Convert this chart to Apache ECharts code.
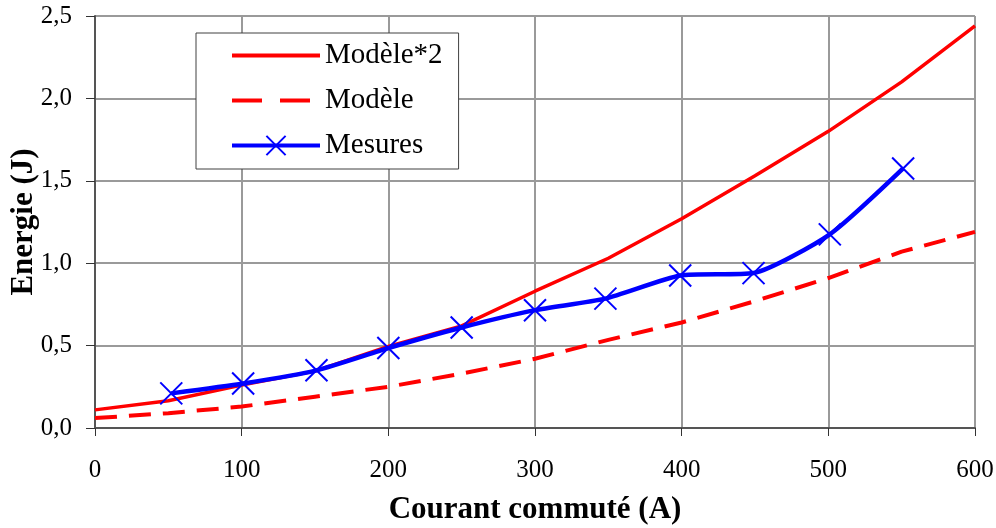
<!DOCTYPE html>
<html>
<head>
<meta charset="utf-8">
<script src="https://cdn.jsdelivr.net/npm/echarts@6/dist/echarts.min.js"></script>
<style>
  html, body { margin: 0; padding: 0; background: #fff; }
  #chart { width: 996px; height: 528px; }
</style>
</head>
<body>
<div id="chart"></div>
<script>
// Switching energy versus switched current
const modelCurrent = [0, 50, 100, 150, 200, 250, 300, 350, 400, 450, 500, 550, 600];
const modelEnergy = [0.06, 0.09, 0.13, 0.19, 0.25, 0.33, 0.42, 0.535, 0.64, 0.77, 0.91, 1.07, 1.19];
const model2Energy = [0.11, 0.165, 0.26, 0.345, 0.495, 0.62, 0.83, 1.03, 1.27, 1.53, 1.80, 2.10, 2.44];

const measCurrent = [52, 101, 151, 200, 250, 300, 348, 399, 449, 501, 551];
const measEnergy = [0.21, 0.27, 0.35, 0.485, 0.61, 0.715, 0.785, 0.925, 0.94, 1.175, 1.575];

const xTicks = { min: 0, max: 600, step: 100 };
const yTicks = { min: 0, max: 2.5, step: 0.5 };

const seriesNames = ['Modèle*2', 'Modèle', 'Mesures'];

const pairs = (xs, ys) => xs.map((x, i) => [x, ys[i]]);

const FONT = "'Liberation Serif', 'Times New Roman', serif";
const RED = '#ff0000';
const BLUE = '#0000ff';
const DASH = [22, 12];
const gridLine = { show: true, lineStyle: { color: '#9a9a9a', width: 2 } };
const axisLine = { show: true, lineStyle: { color: '#555', width: 2 } };
const noMarker = { color: 'rgba(0,0,0,0)', borderColor: 'rgba(0,0,0,0)' };

const chart = echarts.init(document.getElementById('chart'));
chart.setOption({
  animation: false,
  backgroundColor: '#fff',
  textStyle: { fontFamily: FONT, color: '#000' },
  grid: { left: 95, right: 21, top: 16, bottom: 100, containLabel: false, outerBoundsMode: 'none' },
  xAxis: {
    type: 'value',
    min: xTicks.min, max: xTicks.max, interval: xTicks.step,
    name: 'Courant commuté (A)',
    nameLocation: 'middle',
    nameGap: 66,
    nameMoveOverlap: false,
    nameTextStyle: { fontFamily: FONT, fontSize: 31, fontWeight: 'bold', color: '#000' },
    axisLine: axisLine,
    axisTick: { show: true, inside: false, length: 8, lineStyle: { color: '#333', width: 1 } },
    axisLabel: { fontFamily: FONT, fontSize: 25, color: '#000', margin: 30 },
    splitLine: gridLine
  },
  yAxis: {
    type: 'value',
    min: yTicks.min, max: yTicks.max, interval: yTicks.step,
    name: 'Energie (J)',
    nameLocation: 'middle',
    nameRotate: 90,
    nameGap: 56,
    nameMoveOverlap: false,
    nameTextStyle: { fontFamily: FONT, fontSize: 31, fontWeight: 'bold', color: '#000' },
    axisLine: axisLine,
    axisTick: { show: true, inside: false, length: 9, lineStyle: { color: '#333', width: 1 } },
    axisLabel: {
      fontFamily: FONT, fontSize: 25, color: '#000', margin: 23,
      formatter: v => v.toFixed(1).replace('.', ',')
    },
    splitLine: gridLine
  },
  legend: {
    data: [
      { name: seriesNames[0], itemStyle: noMarker, lineStyle: { color: RED, width: 4, type: 'solid' } },
      { name: seriesNames[1], itemStyle: noMarker, lineStyle: { color: RED, width: 4, type: [30, 18] } },
      { name: seriesNames[2], lineStyle: { color: BLUE, width: 4, type: 'solid' } }
    ],
    orient: 'vertical',
    left: 196,
    top: 33,
    padding: [8, 16, 9, 34],
    itemWidth: 88,
    itemHeight: 24,
    itemGap: 16,
    backgroundColor: '#fff',
    borderColor: '#404040',
    borderWidth: 1,
    borderRadius: 0,
    textStyle: { fontFamily: FONT, fontSize: 29, color: '#000', lineHeight: 28, padding: [0, 0, 0, 0] }
  },
  series: [
    {
      name: seriesNames[0],
      type: 'line',
      data: pairs(modelCurrent, model2Energy),
      symbol: 'none',
      lineStyle: { color: RED, width: 3.5 },
      itemStyle: { color: RED },
      z: 2
    },
    {
      name: seriesNames[1],
      type: 'line',
      data: pairs(modelCurrent, modelEnergy),
      symbol: 'none',
      lineStyle: { color: RED, width: 4, type: DASH },
      itemStyle: { color: RED },
      z: 2
    },
    {
      name: seriesNames[2],
      type: 'line',
      data: pairs(measCurrent, measEnergy),
      smooth: 0.2,
      symbol: 'path://M0,0L10,10M10,0L0,10',
      symbolSize: 22,
      showAllSymbol: true,
      lineStyle: { color: BLUE, width: 4.5 },
      itemStyle: { color: 'rgba(0,0,0,0)', borderColor: BLUE, borderWidth: 2 },
      z: 3
    }
  ]
});
</script>
</body>
</html>
